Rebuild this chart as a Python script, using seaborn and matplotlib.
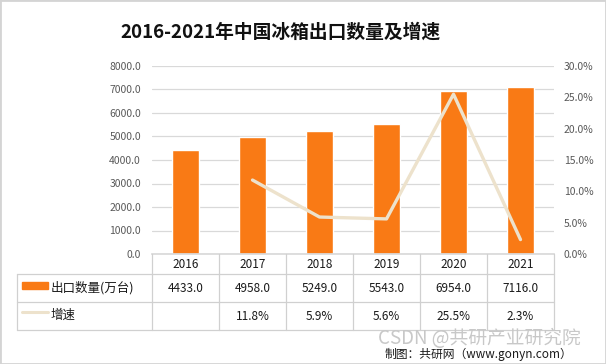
import seaborn as sns
import numpy as np
import matplotlib.pyplot as plt
import pandas as pd
from matplotlib.patches import Rectangle

# data
years = ['2016', '2017', '2018', '2019', '2020', '2021']
export_qty = [4433.0, 4958.0, 5249.0, 5543.0, 6954.0, 7116.0]
growth = [np.nan, 11.8, 5.9, 5.6, 25.5, 2.3]
qty_label = '出口数量(万台)'
growth_label = '增速'

orange = '#F97A15'
beige = '#EDE2CC'
grid_c = '#D9D9D9'

sns.set_theme(style='white')
plt.rcParams['font.family'] = ['Noto Sans CJK SC', 'DejaVu Sans']

df = pd.DataFrame({'year': years, 'qty': export_qty, 'growth': growth})

W, H = 606, 364
fig = plt.figure(figsize=(W / 100, H / 100), dpi=100)

# main plot area
left, right, top, bottom = 152, 554, 66, 254
ax = fig.add_axes([left / W, 1 - bottom / H, (right - left) / W, (bottom - top) / H])
sns.barplot(data=df, x='year', y='qty', color=orange, width=0.39, saturation=1, ax=ax)
ax.set_ylim(0, 8000)
ax.set_yticks(np.arange(0, 8001, 1000))
ax.set_yticklabels([f'{v:.1f}' for v in np.arange(0, 8001, 1000)])
ax.yaxis.grid(True, color=grid_c, lw=0.9)
ax.set_axisbelow(True)
ax.set_xticks([])
ax.set_xlabel('')
ax.set_ylabel('')
for s in ['top', 'left', 'right']:
    ax.spines[s].set_visible(False)
ax.spines['bottom'].set_color(grid_c)
ax.tick_params(axis='y', length=0, pad=8, labelsize=7.5, colors='#595959')

# growth line on right axis
ax2 = ax.twinx()
gdf = df.dropna().copy()
gdf['pos'] = [years.index(y) for y in gdf['year']]
sns.lineplot(data=gdf, x='pos', y='growth', color=beige, lw=2.4, ax=ax2)
ax2.set_ylim(0, 30)
ax2.set_yticks(np.arange(0, 31, 5))
ax2.set_yticklabels([f'{v:.1f}%' for v in np.arange(0, 31, 5)])
ax2.set_ylabel('')
ax2.set_xlabel('')
for s in ax2.spines.values():
    s.set_visible(False)
ax2.tick_params(axis='y', length=0, pad=7, labelsize=7.5, colors='#595959')
ax.set_xlim(-0.5, 5.5)

# data table below the chart
t_left, t_bottom = 17, 330
col_px = (right - left) / 6
x0 = -0.5 - (left - t_left) / col_px
tab = fig.add_axes([t_left / W, 1 - t_bottom / H, (right - t_left) / W, (t_bottom - bottom) / H])
tab.set_xlim(x0, 5.5)
tab.set_ylim(76, 0)
tab.axis('off')
line_c = '#D0D0D0'
for yy in [20, 48, 76]:
    tab.plot([x0, 5.5], [yy, yy], color=line_c, lw=0.9, clip_on=False)
for k in range(7):
    tab.plot([k - 0.5, k - 0.5], [0, 76], color=line_c, lw=0.9, clip_on=False)
tab.plot([x0, x0], [20, 76], color=line_c, lw=0.9, clip_on=False)

for i, y in enumerate(years):
    tab.text(i, 10, y, ha='center', va='center', fontsize=8.5, color='#1a1a1a')
    tab.text(i, 34, f'{export_qty[i]:.1f}', ha='center', va='center', fontsize=8.5, color='#1a1a1a')
    if not np.isnan(growth[i]):
        tab.text(i, 62, f'{growth[i]:.1f}%', ha='center', va='center', fontsize=8.5, color='#1a1a1a')

px = 1 / col_px
tab.add_patch(Rectangle((x0 + 5 * px, 28), 26 * px, 7, color=orange, clip_on=False))
tab.text(x0 + 34 * px, 34, qty_label, ha='left', va='center', fontsize=9, color='#1a1a1a')
tab.plot([x0 + 5 * px, x0 + 31 * px], [58, 58], color=beige, lw=2.2, clip_on=False)
tab.text(x0 + 34 * px, 61, growth_label, ha='left', va='center', fontsize=9, color='#1a1a1a')

# title and footer
fig.text(280 / W, 1 - 32 / H, '2016-2021年中国冰箱出口数量及增速', ha='center', va='center',
         fontsize=13.5, fontweight='bold', color='#111111')
fig.text(378 / W, 1 - 339 / H, 'CSDN @共研产业研究院', ha='left', va='center',
         fontsize=13.5, color='#C8C8C8')
fig.text(385 / W, 1 - 354 / H, '制图：共研网（www.gonyn.com）', ha='left', va='center',
         fontsize=8.5, color='#1a1a1a')

fig.patches.append(Rectangle((0, 0), 1, 1, transform=fig.transFigure, fill=False,
                             ec='#D4D4D4', lw=2))

fig.savefig('out.png', dpi=100)
